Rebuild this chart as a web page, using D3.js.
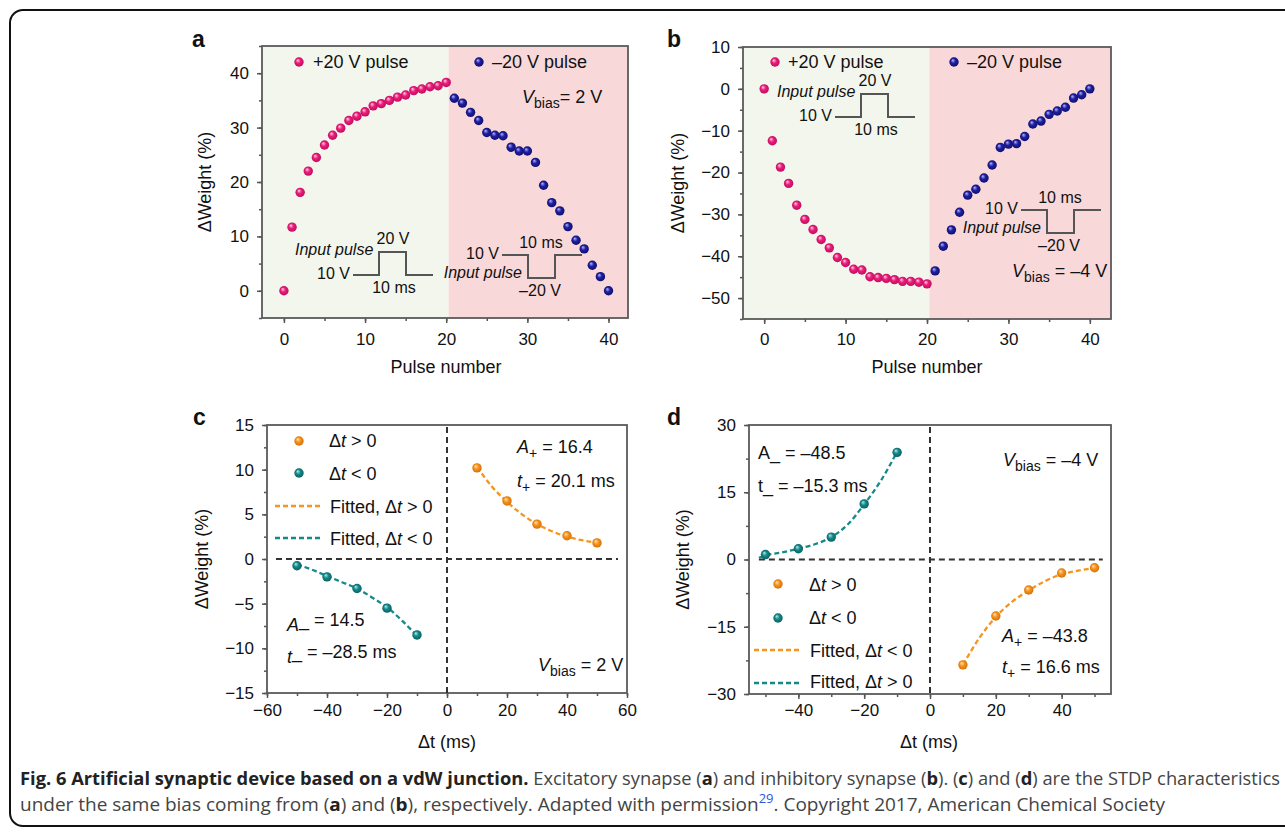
<!DOCTYPE html>
<html>
<head>
<meta charset="utf-8">
<script src="https://cdn.jsdelivr.net/npm/d3@7"></script>
<style>
  body { margin: 0; background: #fff; }
  svg text { font-family: "Liberation Sans", Arial, Helvetica, sans-serif; }
</style>
</head>
<body>
<div id="fig"></div>
<script>
// ---- data: panels a & b (pulse number vs weight change) ----
var pulsePos = [0,1,2,3,4,5,6,7,8,9,10,11,12,13,14,15,16,17,18,19,20];
var pulseNeg = [21,22,23,24,25,26,27,28,29,30,31,32,33,34,35,36,37,38,39,40];
var weightA_pos = [0,11.7,18.1,22.0,24.5,26.8,28.6,29.9,31.3,32.1,32.9,34.0,34.4,35.0,35.6,36.0,36.8,37.1,37.5,37.7,38.3];
var weightA_neg = [35.4,34.5,32.8,31.3,29.1,28.6,28.5,26.4,25.7,25.7,23.6,19.4,16.2,14.7,11.8,9.3,7.7,4.7,2.6,0];
var weightB_pos = [0,-12.4,-18.7,-22.6,-27.8,-31.2,-33.6,-36.0,-38.0,-40.3,-41.5,-43.1,-43.3,-44.9,-45.1,-45.3,-45.6,-46.0,-46.0,-46.2,-46.6];
var weightB_neg = [-43.5,-37.6,-33.7,-29.5,-25.4,-24.0,-21.3,-18.2,-14.0,-13.2,-13.1,-11.4,-8.4,-7.7,-6.1,-5.3,-4.4,-2.2,-1.4,0];
var pulseSwitch = 20.3;   // where the +20 V region ends

// ---- data: panels c & d (STDP) ----
var dtPos = [10,20,30,40,50];
var dtNeg = [-50,-40,-30,-20,-10];
var weightC_pos = [10.2,6.5,3.9,2.6,1.8];
var weightC_neg = [-0.75,-2.0,-3.3,-5.5,-8.5];
var fitDtPos = [10,15,20,25,30,35,40,45,50];
var fitDtNeg = [-50,-45,-40,-35,-30,-25,-20,-15,-10];
var fitC_pos = [10.3,8.1,6.4,5.0,3.9,3.1,2.5,2.1,1.8];
var fitC_neg = [-0.6,-1.2,-1.9,-2.6,-3.3,-4.3,-5.4,-6.9,-8.6];
var weightD_pos = [-23.5,-12.6,-6.8,-3.0,-1.85];
var weightD_neg = [1.1,2.4,5.0,12.4,23.9];
var fitDtNegD = [-52,-50,-45,-40,-35,-30,-25,-20,-15,-10];
var fitD_pos = [-23.5,-17.5,-12.8,-9.4,-6.9,-4.8,-3.3,-2.5,-1.9];
var fitD_neg = [0.4,0.9,1.6,2.4,3.4,5.0,7.8,12.3,17.5,24.0];

// ---- tick values ----
var ticksPulse = [0,10,20,30,40], minorPulse = [0,5,10,15,20,25,30,35,40];
var ticksA = [0,10,20,30,40], minorA = [-5,0,5,10,15,20,25,30,35,40,45];
var ticksB = [-50,-40,-30,-20,-10,0,10], minorB = [-55,-50,-45,-40,-35,-30,-25,-20,-15,-10,-5,0,5,10];
var ticksCx = [-60,-40,-20,0,20,40,60], minorCx = [-60,-50,-40,-30,-20,-10,0,10,20,30,40,50,60];
var ticksCy = [-15,-10,-5,0,5,10,15], minorCy = [-15,-12.5,-10,-7.5,-5,-2.5,0,2.5,5,7.5,10,12.5,15];
var ticksDx = [-40,-20,0,20,40], minorDx = [-50,-40,-30,-20,-10,0,10,20,30,40,50];
var ticksDy = [-30,-15,0,15,30], minorDy = [-30,-22.5,-15,-7.5,0,7.5,15,22.5,30];

var PINK = "#ec1c7c", BLUE = "#1f1fa3", ORANGE = "#f7941d", TEAL = "#16898b";
var R = 4.7;

var svg = d3.select("#fig").append("svg")
    .attr("width", 1285)
    .attr("height", 833);
svg.append("rect").attr("width", 1285).attr("height", 833).attr("fill", "#fff");
// rounded outer frame
svg.append("rect")
    .attr("x", 10).attr("y", 10)
    .attr("width", 1300).attr("height", 816)
    .attr("rx", 13)
    .attr("fill", "none").attr("stroke", "#111").attr("stroke-width", 2);

// shaded "ball" gradients for the markers
var defs = svg.append("defs");
function ball(id, c0, c1, c2) {
    var g = defs.append("radialGradient").attr("id", id)
        .attr("cx", "50%").attr("cy", "50%").attr("r", "55%")
        .attr("fx", "35%").attr("fy", "30%");
    g.append("stop").attr("offset", "0%").attr("stop-color", c0);
    g.append("stop").attr("offset", "45%").attr("stop-color", c1);
    g.append("stop").attr("offset", "100%").attr("stop-color", c2);
}
ball("gPink", "#ffd6e8", PINK, "#b80c58");
ball("gBlue", "#b8b8ff", BLUE, "#0d0d66");
ball("gOrange", "#ffe4bb", ORANGE, "#d06c06");
ball("gTeal", "#b6eeee", TEAL, "#075c5c");

function fmt(d) { return d < 0 ? "\u2212" + Math.abs(d) : String(d); }

function styleAxis(sel) {
    sel.select(".domain").remove();
    sel.selectAll("line").attr("stroke", "#555").attr("stroke-width", 1.5);
    sel.attr("font-size", 17).attr("font-family", "Liberation Sans, Arial, sans-serif");
    sel.selectAll("text").attr("fill", "#111");
}

// builds one framed panel with axes
function panel(box, xDom, yDom, xMajor, xMinor, yMajor, yMinor, xPad) {
    var x = d3.scaleLinear().domain(xDom).range([box.x0, box.x1]);
    var y = d3.scaleLinear().domain(yDom).range([box.y1, box.y0]);
    var g = svg.append("g");
    var back = g.append("g");
    g.append("g").attr("transform", "translate(0," + box.y1 + ")")
        .call(d3.axisBottom(x).tickValues(xMinor).tickSize(3).tickFormat(""))
        .call(styleAxis);
    g.append("g").attr("transform", "translate(0," + box.y1 + ")")
        .call(d3.axisBottom(x).tickValues(xMajor).tickSize(5).tickPadding(xPad).tickFormat(fmt))
        .call(styleAxis);
    g.append("g").attr("transform", "translate(" + box.x0 + ",0)")
        .call(d3.axisLeft(y).tickValues(yMinor).tickSize(3).tickFormat(""))
        .call(styleAxis);
    g.append("g").attr("transform", "translate(" + box.x0 + ",0)")
        .call(d3.axisLeft(y).tickValues(yMajor).tickSize(5).tickPadding(8).tickFormat(fmt))
        .call(styleAxis);
    g.append("rect")
        .attr("x", box.x0).attr("y", box.y0)
        .attr("width", box.x1 - box.x0).attr("height", box.y1 - box.y0)
        .attr("fill", "none").attr("stroke", "#5a5a5a").attr("stroke-width", 1.8);
    return {g: g, back: back, x: x, y: y, box: box};
}

function label(p, t, lx, ly, xTitle, xt, yt, ytx) {
    p.g.append("text").attr("x", lx).attr("y", ly)
        .attr("font-size", 23).attr("font-weight", "bold").attr("fill", "#111").text(t);
    p.g.append("text").attr("x", xt).attr("y", yt)
        .attr("text-anchor", "middle").attr("font-size", 18).attr("fill", "#111").text(xTitle);
    var cy = (p.box.y0 + p.box.y1) / 2;
    p.g.append("text")
        .attr("transform", "translate(" + ytx + "," + cy + ") rotate(-90)")
        .attr("text-anchor", "middle").attr("dominant-baseline", "central")
        .attr("font-size", 18).attr("fill", "#111").text("\u0394Weight (%)");
}

function dots(p, xs, ys, grad) {
    p.g.append("g").selectAll("circle")
        .data(xs.map(function(d, i) { return [d, ys[i]]; }))
        .enter().append("circle")
        .attr("cx", function(d) { return p.x(d[0]); })
        .attr("cy", function(d) { return p.y(d[1]); })
        .attr("r", R)
        .attr("fill", "url(#" + grad + ")");
}

function fitLine(p, xs, ys, color) {
    var line = d3.line()
        .x(function(d) { return p.x(d[0]); })
        .y(function(d) { return p.y(d[1]); })
        .curve(d3.curveMonotoneX);
    p.g.append("path")
        .datum(xs.map(function(d, i) { return [d, ys[i]]; }))
        .attr("d", line)
        .attr("fill", "none").attr("stroke", color)
        .attr("stroke-width", 2.3).attr("stroke-dasharray", "5,3");
}

function txt(g, x, y, s, size, anchor, italic) {
    return g.append("text").attr("x", x).attr("y", y)
        .attr("font-size", size || 18).attr("fill", "#111")
        .attr("text-anchor", anchor || "start")
        .attr("font-style", italic ? "italic" : null)
        .text(s);
}

// V_bias style text: italic main letter, small subscript, then the rest
function subText(g, x, y, main, sub, rest, italic) {
    var t = g.append("text").attr("x", x).attr("y", y).attr("font-size", 18).attr("fill", "#111");
    t.append("tspan").attr("font-style", italic ? "italic" : null).text(main);
    t.append("tspan").attr("font-size", 14).attr("dy", 5).text(sub);
    t.append("tspan").attr("dy", -5).text(rest);
}

// input pulse sketch; sign 1 = up, -1 = down
function pulse(g, x0, y0, sign) {
    var h = 23 * sign;
    var pts = [[x0, y0], [x0 + 26, y0], [x0 + 26, y0 - h], [x0 + 53, y0 - h], [x0 + 53, y0], [x0 + 80, y0]];
    g.append("path").attr("d", d3.line()(pts))
        .attr("fill", "none").attr("stroke", "#555").attr("stroke-width", 2);
    txt(g, x0 - 3, y0 + 4, "10 V", 16, "end");
    if (sign > 0) {
        txt(g, x0 - 58, y0 - 20, "Input pulse", 16, "start", true);
        txt(g, x0 + 40, y0 - 31, "20 V", 16, "middle");
        txt(g, x0 + 41, y0 + 18, "10 ms", 16, "middle");
    } else {
        txt(g, x0 + 20, y0 + 23, "Input pulse", 16, "end", true);
        txt(g, x0 + 39, y0 - 7, "10 ms", 16, "middle");
        txt(g, x0 + 38, y0 + 41, "\u201320 V", 16, "middle");
    }
}

function legendDot(g, cx, cy, grad, tx, s) {
    g.append("circle").attr("cx", cx).attr("cy", cy).attr("r", R).attr("fill", "url(#" + grad + ")");
    txt(g, tx, cy + 6, s, 18);
}

// "Δt > 0" style legend text, t in italics
function dtText(g, x, y, before, after) {
    var t = g.append("text").attr("x", x).attr("y", y).attr("font-size", 18).attr("fill", "#111");
    t.append("tspan").text(before + "\u0394");
    t.append("tspan").attr("font-style", "italic").text("t");
    t.append("tspan").text(after);
}

// ===== panel a =====
var pa = panel({x0: 262, x1: 628, y0: 46, y1: 318}, [-2.7, 42.4], [-5, 45],
    ticksPulse, minorPulse, ticksA, minorA, 10);
pa.back.append("rect").attr("x", pa.x(-2.7)).attr("y", 46)
    .attr("width", pa.x(pulseSwitch) - pa.x(-2.7)).attr("height", 272).attr("fill", "#f3f6ec");
pa.back.append("rect").attr("x", pa.x(pulseSwitch)).attr("y", 46)
    .attr("width", pa.x(42.4) - pa.x(pulseSwitch)).attr("height", 272).attr("fill", "#f8d8d9");
label(pa, "a", 192, 47, "Pulse number", 446, 373, 205);
dots(pa, pulsePos, weightA_pos, "gPink");
dots(pa, pulseNeg, weightA_neg, "gBlue");
legendDot(pa.g, 299, 62, "gPink", 313, "+20 V pulse");
legendDot(pa.g, 479, 62, "gBlue", 492, "\u201320 V pulse");
subText(pa.g, 522, 103, "V", "bias", "= 2 V", true);
pulse(pa.g, 353, 275, 1);
pulse(pa.g, 502, 255, -1);

// ===== panel b =====
var pb = panel({x0: 743, x1: 1111, y0: 47, y1: 319}, [-2.6, 42.6], [-55, 10],
    ticksPulse, minorPulse, ticksB, minorB, 9);
pb.back.append("rect").attr("x", pb.x(-2.6)).attr("y", 47)
    .attr("width", pb.x(pulseSwitch) - pb.x(-2.6)).attr("height", 272).attr("fill", "#f3f6ec");
pb.back.append("rect").attr("x", pb.x(pulseSwitch)).attr("y", 47)
    .attr("width", pb.x(42.6) - pb.x(pulseSwitch)).attr("height", 272).attr("fill", "#f8d8d9");
label(pb, "b", 667, 47, "Pulse number", 927, 373, 678);
dots(pb, pulsePos, weightB_pos, "gPink");
dots(pb, pulseNeg, weightB_neg, "gBlue");
legendDot(pb.g, 775, 62, "gPink", 788, "+20 V pulse");
legendDot(pb.g, 954, 62, "gBlue", 967, "\u201320 V pulse");
subText(pb.g, 1012, 277, "V", "bias", " = \u20134 V", true);
pulse(pb.g, 835, 117, 1);
pulse(pb.g, 1021, 210, -1);

// ===== panel c =====
var pc = panel({x0: 267, x1: 627, y0: 425, y1: 693}, [-60, 60], [-15, 15],
    ticksCx, minorCx, ticksCy, minorCy, 6);
label(pc, "c", 193, 425, "\u0394t (ms)", 447, 748, 202);
pc.g.append("line").attr("x1", pc.x(-57)).attr("x2", pc.x(57)).attr("y1", pc.y(0)).attr("y2", pc.y(0))
    .attr("stroke", "#333").attr("stroke-width", 2).attr("stroke-dasharray", "6,4");
pc.g.append("line").attr("x1", pc.x(0)).attr("x2", pc.x(0)).attr("y1", 427).attr("y2", 693)
    .attr("stroke", "#333").attr("stroke-width", 2).attr("stroke-dasharray", "6,4");
fitLine(pc, fitDtPos, fitC_pos, ORANGE);
fitLine(pc, fitDtNeg, fitC_neg, TEAL);
dots(pc, dtPos, weightC_pos, "gOrange");
dots(pc, dtNeg, weightC_neg, "gTeal");
pc.g.append("circle").attr("cx", 299).attr("cy", 441).attr("r", R).attr("fill", "url(#gOrange)");
dtText(pc.g, 329, 447, "", " > 0");
pc.g.append("circle").attr("cx", 299).attr("cy", 473).attr("r", R).attr("fill", "url(#gTeal)");
dtText(pc.g, 329, 480, "", " < 0");
pc.g.append("line").attr("x1", 275).attr("x2", 322).attr("y1", 506).attr("y2", 506)
    .attr("stroke", ORANGE).attr("stroke-width", 2.3).attr("stroke-dasharray", "5,3");
dtText(pc.g, 330, 513, "Fitted, ", " > 0");
pc.g.append("line").attr("x1", 275).attr("x2", 322).attr("y1", 538).attr("y2", 538)
    .attr("stroke", TEAL).attr("stroke-width", 2.3).attr("stroke-dasharray", "5,3");
dtText(pc.g, 330, 545, "Fitted, ", " < 0");
subText(pc.g, 517, 453, "A", "+", " = 16.4", true);
subText(pc.g, 517, 487, "t", "+", " = 20.1 ms", true);
subText(pc.g, 287, 631, "A", "", "_ = 14.5", true);
subText(pc.g, 287, 663, "t", "", "_ = \u201328.5 ms", true);
subText(pc.g, 538, 671, "V", "bias", " = 2 V", true);

// ===== panel d =====
var pd = panel({x0: 749, x1: 1111, y0: 425, y1: 694}, [-55, 55], [-30, 30],
    ticksDx, minorDx, ticksDy, minorDy, 5);
label(pd, "d", 667, 425, "\u0394t (ms)", 929, 748, 683);
pd.g.append("line").attr("x1", pd.x(-52)).attr("x2", pd.x(52.5)).attr("y1", pd.y(0)).attr("y2", pd.y(0))
    .attr("stroke", "#333").attr("stroke-width", 2).attr("stroke-dasharray", "6,4");
pd.g.append("line").attr("x1", pd.x(0)).attr("x2", pd.x(0)).attr("y1", 427).attr("y2", 694)
    .attr("stroke", "#333").attr("stroke-width", 2).attr("stroke-dasharray", "6,4");
fitLine(pd, fitDtPos, fitD_pos, ORANGE);
fitLine(pd, fitDtNegD, fitD_neg, TEAL);
dots(pd, dtPos, weightD_pos, "gOrange");
dots(pd, dtNeg, weightD_neg, "gTeal");
pd.g.append("circle").attr("cx", 778).attr("cy", 584).attr("r", R).attr("fill", "url(#gOrange)");
dtText(pd.g, 809, 591, "", " > 0");
pd.g.append("circle").attr("cx", 778).attr("cy", 618).attr("r", R).attr("fill", "url(#gTeal)");
dtText(pd.g, 809, 624, "", " < 0");
pd.g.append("line").attr("x1", 754).attr("x2", 802).attr("y1", 650).attr("y2", 650)
    .attr("stroke", ORANGE).attr("stroke-width", 2.3).attr("stroke-dasharray", "5,3");
dtText(pd.g, 810, 657, "Fitted, ", " < 0");
pd.g.append("line").attr("x1", 754).attr("x2", 802).attr("y1", 683).attr("y2", 683)
    .attr("stroke", TEAL).attr("stroke-width", 2.3).attr("stroke-dasharray", "5,3");
dtText(pd.g, 810, 688, "Fitted, ", " > 0");
txt(pd.g, 758, 459, "A_ = \u201348.5", 18);
txt(pd.g, 758, 492, "t_ = \u201315.3 ms", 18);
subText(pd.g, 1003, 466, "V", "bias", " = \u20134 V", true);
subText(pd.g, 1002, 642, "A", "+", " = \u201343.8", true);
subText(pd.g, 1002, 673, "t", "+", " = 16.6 ms", true);

// ===== caption =====
function captionLine(y, len, parts) {
    var t = svg.append("text").attr("x", 20).attr("y", y)
        .attr("font-size", 17.5).attr("fill", "#444")
        .style("font-family", "'Open Sans', 'Noto Sans', sans-serif")
        .attr("textLength", len).attr("lengthAdjust", "spacingAndGlyphs");
    parts.forEach(function(p) {
        var s = t.append("tspan").text(p[0]);
        if (p[1] === "b") s.attr("font-weight", "bold").attr("fill", "#222");
        if (p[1] === "sup") s.attr("font-size", 12).attr("fill", "#2f55d4").attr("baseline-shift", "super");
    });
}
captionLine(785, 1260, [
    ["Fig. 6 Artificial synaptic device based on a vdW junction.", "b"],
    [" Excitatory synapse ("], ["a", "b"], [") and inhibitory synapse ("], ["b", "b"],
    ["). ("], ["c", "b"], [") and ("], ["d", "b"], [") are the STDP characteristics"]
]);
captionLine(811, 1145, [
    ["under the same bias coming from ("], ["a", "b"], [") and ("], ["b", "b"],
    ["), respectively. Adapted with permission"], ["29", "sup"],
    [". Copyright 2017, American Chemical Society"]
]);
</script>
</body>
</html>
